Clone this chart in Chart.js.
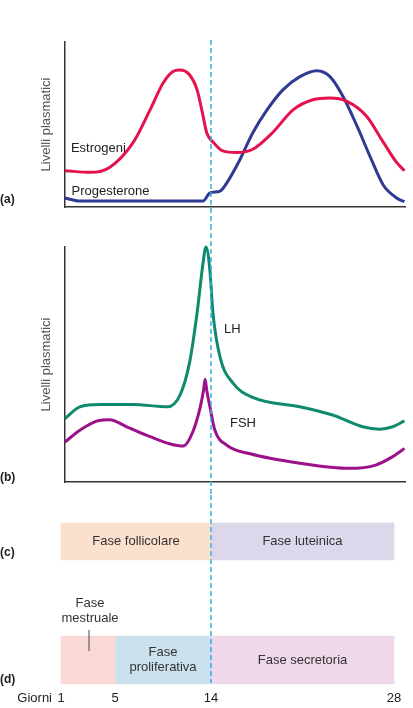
<!DOCTYPE html>
<html lang="it">
<head>
    <meta charset="UTF-8">
    <title>Ciclo ovarico e uterino</title>
    <script src="https://cdn.jsdelivr.net/npm/chart.js"></script>
    <style>
        body { margin: 0; background: #fff; }
        .panel { position: absolute; left: 0; width: 413px; }
        .panel canvas { display: block; }
        #panel-a { top: 0; height: 225px; }
        #panel-b { top: 225px; height: 270px; }
        #panel-c { top: 495px; height: 213px; }
    </style>
</head>
<body>
    <div class="panel" id="panel-a"><canvas id="chart-a" width="413" height="225"></canvas></div>
    <div class="panel" id="panel-b"><canvas id="chart-b" width="413" height="270"></canvas></div>
    <div class="panel" id="panel-c"><canvas id="chart-c" width="413" height="213"></canvas></div>

    <script>
        // ---- data (x = giorno del ciclo, y = livello relativo 0-100) ----
        const estrogenDays = [1.3, 3.2, 4.6, 6.7, 8.3, 9.5, 10.4, 11.1, 12.0, 12.7, 13.2, 13.6, 14.2, 14.9, 16.0, 17.2, 18.7, 20.3, 21.8, 23.1, 24.4, 25.9, 27.2, 28.2, 28.8];
        const estrogenLevels = [22, 21, 24, 39, 59, 75, 82, 83, 80, 71, 57, 45, 39, 34, 33, 35, 45, 59, 65, 66, 64, 55, 39, 27, 22];

        const progesteroneDays = [1.3, 2.4, 13.25, 13.9, 14.7, 15.2, 16.2, 17.2, 18.3, 19.5, 20.8, 22.1, 23.1, 24.1, 25.2, 26.2, 27.2, 28.2, 28.8];
        const progesteroneLevels = [5.5, 3.6, 3.6, 8.5, 9.6, 14.5, 28.5, 45, 59, 71, 79, 82.6, 79, 67, 48.5, 30, 13, 5.5, 3.2];

        const lhDays = [1.3, 2.4, 3.9, 6.7, 9.9, 11.1, 12.0, 12.7, 13.25, 13.53, 13.9, 14.15, 14.7, 15.7, 17.2, 20.8, 23.3, 25.6, 26.9, 27.9, 28.8];
        const lhLevels = [27, 32, 33, 33, 32, 37, 51, 72, 93, 100, 90, 72, 53, 42, 36, 32, 28.5, 23.5, 22.5, 23.5, 26];

        const fshDays = [1.3, 2.4, 3.7, 4.6, 6.1, 8.3, 10.2, 11.4, 12.3, 13.0, 13.3, 13.45, 13.6, 13.9, 14.3, 15.2, 17.0, 20.8, 24.6, 26.6, 27.9, 28.8];
        const fshLevels = [17, 22, 26, 26.5, 23.5, 19.3, 16.2, 15.3, 21.4, 32, 39, 43.7, 39, 32, 22, 15.7, 12, 8, 5.8, 7.2, 10.8, 14.3];

        const phaseNames = ['Fase follicolare', 'Fase luteinica', 'Fase mestruale', 'Fase proliferativa', 'Fase secretoria'];
        const phaseRows = ['c', 'c', 'd', 'd', 'd'];
        const phaseStart = [1, 14, 1, 5, 14];
        const phaseEnd = [14, 28, 5, 14, 28];
        const phaseLines = [['Fase follicolare'], ['Fase luteinica'], ['Fase', 'mestruale'], ['Fase', 'proliferativa'], ['Fase secretoria']];

        const dayTicks = [1, 5, 14, 28];
        const ovulationDay = 14;

        const FONT = "'Liberation Sans', Arial, sans-serif";
        const phaseColors = ['#fbe1cd', '#dcd7eb', '#f9d9d6', '#cbe2ee', '#eed8ea'];
        const phaseThickness = { c: 37, d: 48 };

        // the figure is schematic: days 1, 5, 14, 28 are not evenly spaced
        const axisDays = [1, 5, 14, 28];
        const axisStops = [0, 54, 150, 333];

        function warp(d) {
            const i = d <= axisDays[1] ? 0 : (d <= axisDays[2] ? 1 : 2);
            const t = (d - axisDays[i]) / (axisDays[i + 1] - axisDays[i]);
            return axisStops[i] + t * (axisStops[i + 1] - axisStops[i]);
        }
        function unwarp(p) {
            const i = p <= axisStops[1] ? 0 : (p <= axisStops[2] ? 1 : 2);
            const t = (p - axisStops[i]) / (axisStops[i + 1] - axisStops[i]);
            return axisDays[i] + t * (axisDays[i + 1] - axisDays[i]);
        }

        class DayScale extends Chart.LinearScale {
            static id = 'day';
            getPixelForValue(value) {
                if (value === null || value === undefined || isNaN(value)) return NaN;
                const a = warp(this.min), b = warp(this.max);
                return this.getPixelForDecimal((warp(value) - a) / (b - a));
            }
            getValueForPixel(pixel) {
                const a = warp(this.min), b = warp(this.max);
                return unwarp(a + this.getDecimalForPixel(pixel) * (b - a));
            }
        }
        Chart.register(DayScale);

        const points = (days, levels) => days.map((d, i) => ({ x: d, y: levels[i] }));

        // ---- plugins ----
        const ovulationLine = {
            id: 'ovulationLine',
            afterDraw(chart, args, opts) {
                const ctx = chart.ctx;
                const x = chart.scales.x.getPixelForValue(ovulationDay);
                ctx.save();
                ctx.strokeStyle = '#35aee3';
                ctx.lineWidth = 1.5;
                ctx.setLineDash([5, 3]);
                ctx.beginPath();
                ctx.moveTo(x, opts.top);
                ctx.lineTo(x, opts.bottom);
                ctx.stroke();
                ctx.restore();
            }
        };

        const panelLetters = {
            id: 'panelLetters',
            afterDraw(chart, args, opts) {
                const ctx = chart.ctx;
                ctx.save();
                ctx.font = 'bold 12px ' + FONT;
                ctx.fillStyle = '#222';
                ctx.textAlign = 'left';
                ctx.textBaseline = 'middle';
                opts.items.forEach(it => ctx.fillText(it.text, 0, it.y));
                ctx.restore();
            }
        };

        const curveLabels = {
            id: 'curveLabels',
            afterDraw(chart, args, opts) {
                const ctx = chart.ctx;
                ctx.save();
                ctx.font = '13px ' + FONT;
                ctx.fillStyle = '#222';
                ctx.textAlign = 'left';
                ctx.textBaseline = 'middle';
                opts.items.forEach(it => {
                    ctx.fillText(it.text, chart.scales.x.getPixelForValue(it.x), chart.scales.y.getPixelForValue(it.y));
                });
                ctx.restore();
            }
        };

        const phaseText = {
            id: 'phaseText',
            afterDatasetsDraw(chart) {
                const ctx = chart.ctx;
                ctx.save();
                ctx.font = '13px ' + FONT;
                ctx.fillStyle = '#333';
                ctx.textAlign = 'center';
                ctx.textBaseline = 'middle';
                chart.data.datasets.forEach((ds, i) => {
                    chart.getDatasetMeta(i).data.forEach((bar, j) => {
                        if (!bar || ds.data[j] === null) return;
                        const { x, base, y, height } = bar.getProps(['x', 'base', 'y', 'height'], true);
                        const cx = (x + base) / 2;
                        const lines = phaseLines[i];
                        const widest = Math.max(...lines.map(l => ctx.measureText(l).width));
                        if (widest + 8 > Math.abs(x - base)) {
                            // too narrow: label above the bar with a leader line
                            const top = y - height / 2;
                            lines.forEach((l, k) => ctx.fillText(l, cx + 2, top - 18 - (lines.length - 1 - k) * 15));
                            ctx.strokeStyle = '#444';
                            ctx.lineWidth = 1;
                            ctx.beginPath();
                            ctx.moveTo(cx + 1, top - 6);
                            ctx.lineTo(cx + 1, top + 15);
                            ctx.stroke();
                        } else {
                            lines.forEach((l, k) => ctx.fillText(l, cx, y + (k - (lines.length - 1) / 2) * 15));
                        }
                    });
                });
                ctx.restore();
            },
            afterDraw(chart) {
                const ctx = chart.ctx;
                const xs = chart.scales.x;
                ctx.save();
                ctx.font = '13px ' + FONT;
                ctx.fillStyle = '#222';
                ctx.textAlign = 'right';
                ctx.textBaseline = 'middle';
                ctx.fillText('Giorni', 52, xs.top + xs.options.ticks.padding + 7.8);
                ctx.restore();
            }
        };

        // ---- shared axis settings for the two hormone panels ----
        function hormoneScales() {
            return {
                x: {
                    type: 'day', min: 1.3, max: 28.84, bounds: 'data',
                    ticks: { display: false },
                    grid: { display: false, drawTicks: false },
                    border: { display: true, color: '#333', width: 1.5 },
                    afterFit: s => { s.height = 0; }
                },
                y: {
                    min: 0, max: 100,
                    ticks: { display: false },
                    grid: { display: false, drawTicks: false },
                    border: { display: true, color: '#333', width: 1.5 },
                    title: { display: true, text: 'Livelli plasmatici', color: '#555', font: { family: FONT, size: 13 }, padding: { top: 0, bottom: 0 } },
                    afterFit: s => { s.width = 26; }
                }
            };
        }

        function lineSet(label, days, levels, color) {
            return {
                label: label,
                data: points(days, levels),
                borderColor: color,
                borderWidth: 3,
                pointRadius: 0,
                fill: false,
                clip: false,
                cubicInterpolationMode: 'monotone'
            };
        }

        // (a) estrogeni e progesterone
        new Chart(document.getElementById('chart-a'), {
            type: 'line',
            data: {
                datasets: [
                    lineSet('Estrogeni', estrogenDays, estrogenLevels, '#e5124e'),
                    lineSet('Progesterone', progesteroneDays, progesteroneLevels, '#2f3a93')
                ]
            },
            options: {
                responsive: false,
                animation: false,
                events: [],
                layout: { padding: { left: 39, right: 8, top: 42, bottom: 18 } },
                scales: hormoneScales(),
                plugins: {
                    legend: { display: false },
                    tooltip: { enabled: false },
                    ovulationLine: { top: 40, bottom: 225 },
                    panelLetters: { items: [{ text: '(a)', y: 200 }] },
                    curveLabels: { items: [{ text: 'Estrogeni', x: 1.74, y: 35.8 }, { text: 'Progesterone', x: 1.78, y: 9.7 }] }
                }
            },
            plugins: [ovulationLine, panelLetters, curveLabels]
        });

        // (b) LH e FSH
        new Chart(document.getElementById('chart-b'), {
            type: 'line',
            data: {
                datasets: [
                    lineSet('LH', lhDays, lhLevels, '#108a6c'),
                    lineSet('FSH', fshDays, fshLevels, '#9c108a')
                ]
            },
            options: {
                responsive: false,
                animation: false,
                events: [],
                layout: { padding: { left: 39, right: 8, top: 22, bottom: 13 } },
                scales: hormoneScales(),
                plugins: {
                    legend: { display: false },
                    tooltip: { enabled: false },
                    ovulationLine: { top: 0, bottom: 270 },
                    panelLetters: { items: [{ text: '(b)', y: 253 }] },
                    curveLabels: { items: [{ text: 'LH', x: 15.0, y: 65 }, { text: 'FSH', x: 15.45, y: 25 }] }
                }
            },
            plugins: [ovulationLine, panelLetters, curveLabels]
        });

        // (c) ciclo ovarico, (d) ciclo uterino
        const rows = ['c', 'd'];
        new Chart(document.getElementById('chart-c'), {
            type: 'bar',
            data: {
                labels: rows,
                datasets: phaseNames.map((name, i) => ({
                    label: name,
                    data: rows.map(r => r === phaseRows[i] ? [phaseStart[i], phaseEnd[i]] : null),
                    backgroundColor: phaseColors[i],
                    borderWidth: 0,
                    barThickness: phaseThickness[phaseRows[i]],
                    clip: false
                }))
            },
            options: {
                indexAxis: 'y',
                responsive: false,
                animation: false,
                events: [],
                grouped: false,
                layout: { padding: { left: 61, right: 19, top: 46.5, bottom: 0 } },
                scales: {
                    y: { type: 'category', offset: false, display: false },
                    x: {
                        type: 'day', min: 1, max: 28, bounds: 'data',
                        afterBuildTicks: s => { s.ticks = dayTicks.map(v => ({ value: v })); },
                        ticks: { autoSkip: false, maxRotation: 0, padding: 31, color: '#222', font: { family: FONT, size: 13 } },
                        grid: { display: false, drawTicks: false },
                        border: { display: false },
                        afterFit: s => { s.height = 48; s.paddingLeft = 0; s.paddingRight = 0; }
                    }
                },
                plugins: {
                    legend: { display: false },
                    tooltip: { enabled: false },
                    ovulationLine: { top: 0, bottom: 188 },
                    panelLetters: { items: [{ text: '(c)', y: 58 }, { text: '(d)', y: 185 }] }
                }
            },
            plugins: [ovulationLine, panelLetters, phaseText]
        });
    </script>
</body>
</html>
